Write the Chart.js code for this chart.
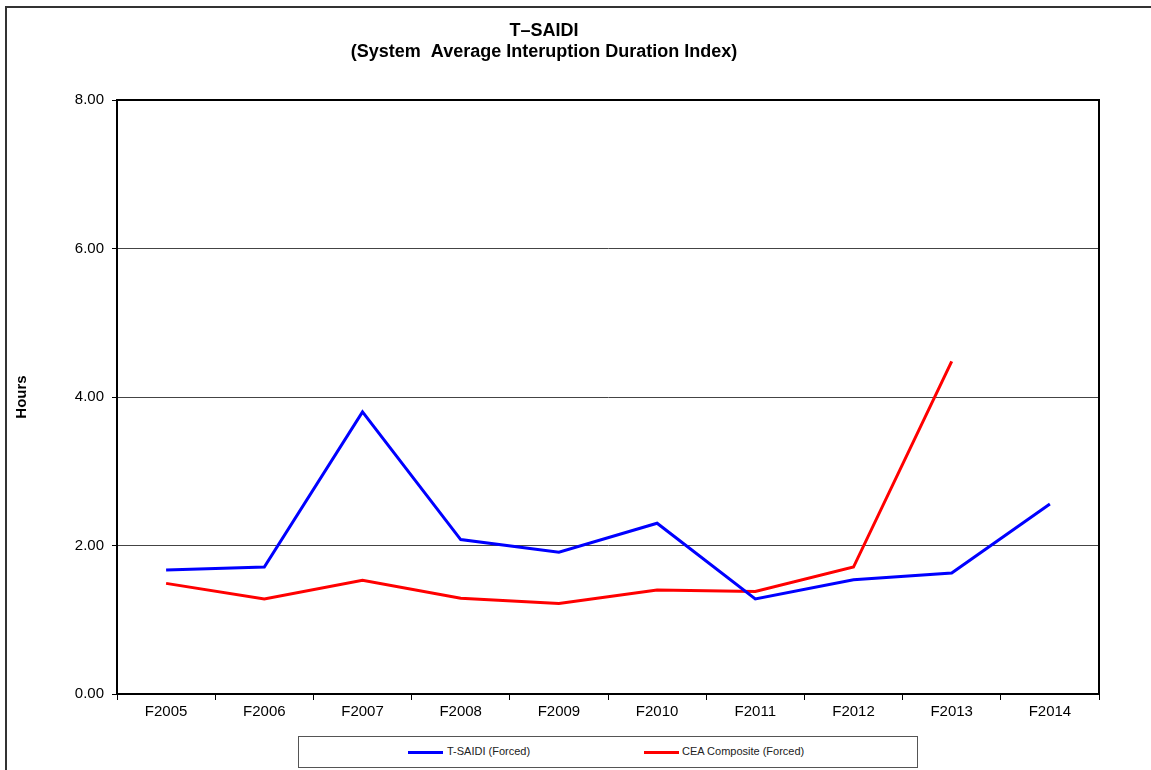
<!DOCTYPE html>
<html>
<head>
<meta charset="utf-8">
<script src="https://cdn.jsdelivr.net/npm/chart.js@4.4.1/dist/chart.umd.min.js"></script>
<style>
  body { margin: 0; background: #fff; font-family: "Liberation Sans", Arial, sans-serif; }
  #wrap { position: relative; width: 1151px; height: 770px; overflow: hidden; }
  #frame { position: absolute; left: 5px; top: 6px; width: 1200px; height: 800px; border-left: 2px solid #333; border-top: 2px solid #333; }
  #legend { position: absolute; left: 298px; top: 736px; width: 618px; height: 30px; border: 1px solid #555; background: #fff; }
  .sw { position: absolute; top: 14px; width: 35px; height: 3px; }
  .lt { position: absolute; top: 8px; font-size: 11px; color: #222; white-space: nowrap; }
  canvas { position: absolute; left: 0; top: 0; }
</style>
</head>
<body>
<div id="wrap">
  <div id="frame"></div>
  <canvas id="chart" width="1151" height="770"></canvas>
  <div id="legend">
    <div class="sw" style="left:109px;background:#0000ff"></div>
    <div class="lt" style="left:148px">T-SAIDI (Forced)</div>
    <div class="sw" style="left:345px;background:#ff0000"></div>
    <div class="lt" style="left:383px">CEA Composite (Forced)</div>
  </div>
</div>
<script>
const years = ["F2005", "F2006", "F2007", "F2008", "F2009", "F2010", "F2011", "F2012", "F2013", "F2014"];
const tsaidi = [1.67, 1.71, 3.80, 2.08, 1.91, 2.30, 1.28, 1.54, 1.63, 2.56];
const ceaComposite = [1.49, 1.28, 1.53, 1.29, 1.22, 1.40, 1.38, 1.71, 4.48, null];

// title, y axis label and the top/right edges of the plot box
const extras = {
  id: "extras",
  afterDraw(chart) {
    const ctx = chart.ctx;
    const a = chart.chartArea;
    ctx.save();
    ctx.strokeStyle = "#000";
    ctx.lineWidth = 2;
    ctx.beginPath();
    ctx.moveTo(a.left, a.top);
    ctx.lineTo(a.right, a.top);
    ctx.lineTo(a.right, a.bottom);
    ctx.stroke();

    ctx.fillStyle = "#000";
    ctx.textAlign = "center";
    ctx.textBaseline = "middle";
    ctx.font = "bold 18px 'Liberation Sans', Arial";
    ctx.fillText("T\u2013SAIDI", 544, 31);
    ctx.fillText("(System  Average Interuption Duration Index)", 544, 52);

    ctx.font = "bold 15px 'Liberation Sans', Arial";
    ctx.translate(22, 397);
    ctx.rotate(-Math.PI / 2);
    ctx.fillText("Hours", 0, 0);
    ctx.restore();
  }
};

new Chart(document.getElementById("chart"), {
  type: "line",
  data: {
    labels: years,
    datasets: [
      { label: "T-SAIDI (Forced)", data: tsaidi, borderColor: "#0000ff", borderWidth: 3, pointRadius: 0, tension: 0 },
      { label: "CEA Composite (Forced)", data: ceaComposite, borderColor: "#ff0000", borderWidth: 3, pointRadius: 0, tension: 0 }
    ]
  },
  options: {
    responsive: false,
    animation: false,
    layout: { padding: { left: 0, top: 100, right: 52, bottom: 36 } },
    plugins: { legend: { display: false }, title: { display: false }, tooltip: { enabled: false } },
    scales: {
      x: {
        offset: true,
        afterFit: s => { s.height = 40; },
        grid: { offset: true, drawOnChartArea: false, tickLength: 6, color: "#000", lineWidth: 1 },
        border: { display: true, color: "#000", width: 2 },
        ticks: { color: "#000", padding: 3, font: { family: "'Liberation Sans', Arial", size: 15 } }
      },
      y: {
        min: 0,
        max: 8,
        afterFit: s => { s.width = 117; },
        grid: { color: "#444", lineWidth: 1, tickLength: 5, tickColor: "#000" },
        border: { display: true, color: "#000", width: 2 },
        ticks: {
          stepSize: 2,
          color: "#000",
          padding: 8,
          font: { family: "'Liberation Sans', Arial", size: 15 },
          callback: v => v.toFixed(2)
        }
      }
    }
  },
  plugins: [extras]
});
</script>
</body>
</html>
